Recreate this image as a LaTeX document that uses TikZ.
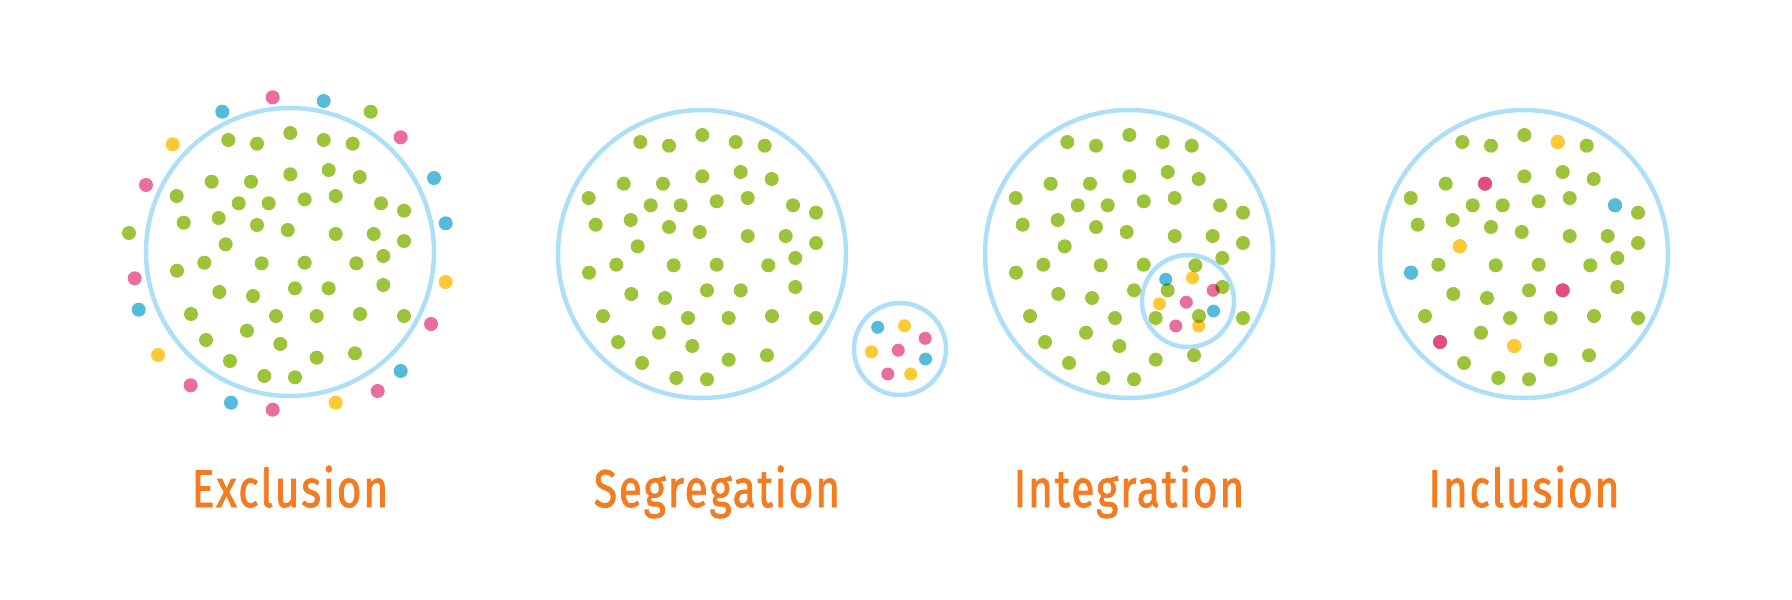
\documentclass[tikz,border=0pt]{standalone}
\usepackage{fontspec}
\usepackage{xcolor}
\usetikzlibrary{positioning}

\newfontfamily\labelfont[FakeStretch=0.8,FakeBold=1.5,LetterSpace=3.5]{Fira Sans}

\definecolor{ringblue}{HTML}{ADE0F8}
\definecolor{dotgreen}{HTML}{9DC33B}
\definecolor{dotblue}{HTML}{55BBDA}
\definecolor{dotpink}{HTML}{EA6D9D}
\definecolor{dotred}{HTML}{E24C7E}
\definecolor{dotyellow}{HTML}{FFC934}
\definecolor{labelorange}{HTML}{F47B20}

% the same crowd of people sits in every big ring
\newcommand\crowd{-61.7/-112, -33/-108.3, 0.3/-119, 33.7/-112, 62.7/-108.3,
  -78.3/-70.3, -39/-70.3, 0.3/-77.7, 38.7/-82, 69.7/-75,
  -113.3/-56, -51.3/-48.7, -21.3/-48.7, 14.7/-52.7, 45.7/-56, 91/-48.7, 114/-41.3,
  -106.3/-29.3, -71.3/-34, -33/-27, -2.3/-22, 45.7/-18, 83.7/-18, 114/-11,
  -64.3/-7.7, -113/18.7, -85.7/10.7, -28.3/11.3, 14.7/10.7, 66.3/11.3, 93.3/4,
  -70.7/40, -37/44, 5/36.3, 38.7/36.3, 93.3/33,
  -99/62, -14/64, 26.7/64, 70/62, 114/64,
  -43/78.7, -84/88, -9.7/92, -60/109, 26.7/105.7, 65/101.3, -25.7/124, 5/125.3}
% the small mixed group
\newcommand\minority{-22.3/-21.7/dotblue, 4.5/-23.3/dotyellow, 25.2/-10.7/dotpink,
  -28.5/2.8/dotyellow, -1.7/1.2/dotpink, 25.5/10/dotblue,
  -12.2/25/dotpink, 10.7/25/dotyellow}

\begin{document}
\begin{tikzpicture}[x=1pt,y=-1pt,on grid,
    ring/.style={circle,draw=ringblue,line width=4.5pt,inner sep=0pt,minimum size=288pt},
    smallring/.style={ring,minimum size=92pt},
    title/.style={text=labelorange,font=\labelfont\fontsize{53}{60}\selectfont},
    person/.style={fill=dotgreen}]
  \useasboundingbox (0,0) rectangle (1792,600);

  % rings
  \node[ring] (excl) at (290,252) {};
  \node[ring] (segr) at (702,254) {};
  \node[smallring] (segrSmall) [below right=95pt and 198pt of segr] {};
  \node[ring] (intg) at (1129,254) {};
  \node[smallring] (intgSmall) [below right=47pt and 59pt of intg] {};
  \node[ring] (incl) at (1524,254) {};

  % crowds
  \foreach \ctr in {excl,segr,intg,incl}
    \foreach \x/\y in \crowd
      \fill[person] ([shift={(\x,\y)}]\ctr.center) circle[radius=7pt];

  % exclusion: the others stay outside
  \begin{scope}[shift={(excl.center)}]
    \foreach \x/\y/\c in {-17.3/-154.7/dotpink, 33.7/-151/dotblue, 80.7/-140.3/dotgreen,
        110.7/-114.7/dotpink, 144/-74/dotblue, 155.7/-28.7/dotblue, 155.7/30/dotyellow,
        141/72/dotpink, 110.7/119/dotblue, 87.7/139/dotpink, 45.7/150.7/dotyellow,
        -17.3/157.7/dotpink, -59/150.7/dotblue, -99.3/133.3/dotpink, -132/103/dotyellow,
        -151.3/57.7/dotblue, -155.3/26.3/dotpink, -161/-19/dotgreen, -144/-67/dotpink,
        -117.3/-107.7/dotyellow, -67.7/-140.3/dotblue}
      \fill[\c] (\x,\y) circle[radius=7pt];
  \end{scope}

  % segregation and integration: a group of their own
  \foreach \x/\y/\c in \minority
    \fill[\c] ([shift={(\x,\y)}]segrSmall.center) circle[radius=6.5pt];
  \begin{scope}[blend mode=multiply]
    \foreach \x/\y/\c in \minority
      \fill[\c] ([shift={(\x,\y)}]intgSmall.center) circle[radius=6.5pt];
  \end{scope}

  % inclusion: mixed into the crowd
  \foreach \x/\y/\c in {33.7/-112/dotyellow, -39/-70.3/dotred, 91/-48.7/dotblue,
      -64.3/-7.7/dotyellow, -113/18.7/dotblue, 38.7/36.3/dotred,
      -84/88/dotred, -9.7/92/dotyellow}
    \fill[\c] ([shift={(\x,\y)}]incl.center) circle[radius=7pt];

  % labels
  \node[title] (exclLabel) [below=255pt of excl, anchor=base] {Exclusion};
  \node[title] (segrLabel) [below=253pt of segr, xshift=15pt, anchor=base] {Segregation};
  \node[title] (intgLabel) [below=253pt of intg, anchor=base] {Integration};
  \node[title] (inclLabel) [below=253pt of incl, anchor=base] {Inclusion};
\end{tikzpicture}
\end{document}
